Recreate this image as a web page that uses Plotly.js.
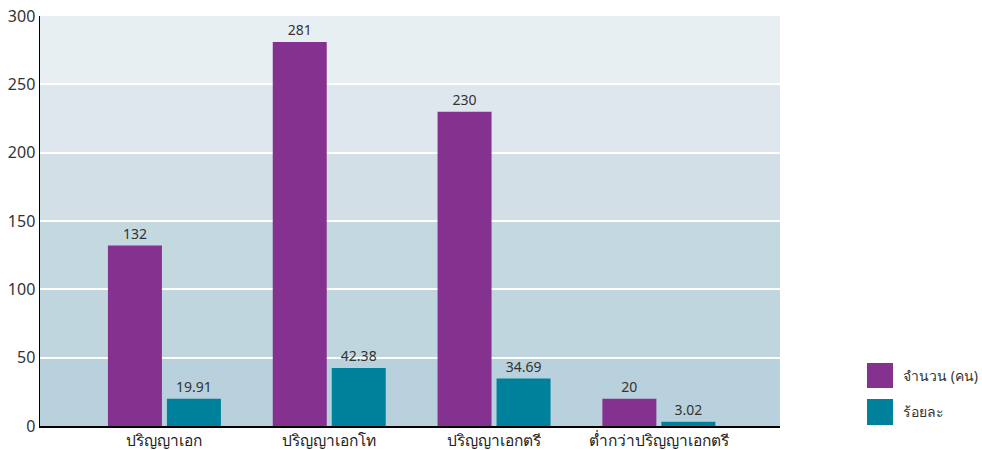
<!DOCTYPE html>
<html><head><meta charset="utf-8">
<script src="https://cdn.plot.ly/plotly-3.0.1.min.js"></script>
<style>html,body{margin:0;padding:0;background:#fff}</style>
</head><body>
<div id="chart" style="width:982px;height:450px"></div>
<script>
var categories = ["ปริญญาเอก", "ปริญญาเอกโท", "ปริญญาเอกตรี", "ต่ำกว่าปริญญาเอกตรี"];
var seriesNames = ["จำนวน (คน)", "ร้อยละ"];
var countValues = [132, 281, 230, 20];
var percentValues = [19.91, 42.38, 34.69, 3.02];
var yTicks = [0, 50, 100, 150, 200, 250, 300];
var seriesColors = ["#84318f", "#00819b"];
var bandColors = ["#b8d1dc", "#c0d6de", "#c3d8df", "#d2dfe6", "#dfe7ee", "#e8eff3"];

var font = "'Noto Sans', 'Open Sans', sans-serif";

var traces = [
  {type: "bar", name: seriesNames[0], x: categories, y: countValues,
   marker: {color: seriesColors[0]}, texttemplate: "%{y}", textposition: "outside",
   textfont: {size: 14, color: "#333", family: font}, cliponaxis: false, showlegend: false, hoverinfo: "x+y"},
  {type: "bar", name: seriesNames[1], x: categories, y: percentValues,
   marker: {color: seriesColors[1]}, texttemplate: "%{y}", textposition: "outside",
   textfont: {size: 14, color: "#333", family: font}, cliponaxis: false, showlegend: false, hoverinfo: "x+y"}
];

var shapes = [];
for (var i = 0; i < yTicks.length - 1; i++) {
  shapes.push({type: "rect", xref: "paper", yref: "y", x0: 0, x1: 1, y0: yTicks[i], y1: yTicks[i+1],
    fillcolor: bandColors[i], line: {width: 0}, layer: "below"});
}
var annotations = [];
var legendY = [[0.0927, 0.1537], [0.0024, 0.0659]];
for (var j = 0; j < seriesNames.length; j++) {
  shapes.push({type: "rect", xref: "paper", yref: "paper", x0: 1.1176, x1: 1.1527,
    y0: legendY[j][0], y1: legendY[j][1], fillcolor: seriesColors[j], line: {width: 0}});
  annotations.push({xref: "paper", yref: "paper", x: 1.1635, y: (legendY[j][0] + legendY[j][1]) / 2,
    xanchor: "left", yanchor: "middle", text: seriesNames[j], showarrow: false,
    font: {size: 14, color: "#333", family: font}});
}

var layout = {
  width: 982, height: 450,
  margin: {l: 40, r: 202, t: 16, b: 24, pad: 0},
  paper_bgcolor: "#ffffff", plot_bgcolor: "rgba(0,0,0,0)",
  barmode: "group", bargap: 0.284, bargroupgap: 0.085,
  showlegend: false,
  font: {family: font, color: "#333"},
  xaxis: {type: "category", range: [-0.755, 3.735], showline: true, linecolor: "#000", linewidth: 1.5,
    ticks: "", showgrid: false, zeroline: false, tickfont: {size: 15.5, color: "#222", family: font}},
  yaxis: {range: [0, 300], tickvals: yTicks, showline: true, linecolor: "#000", linewidth: 1.5,
    showgrid: true, gridcolor: "#ffffff", gridwidth: 2, zeroline: false, ticks: "",
    tickfont: {size: 16, color: "#333", family: font}, layer: "above traces"},
  shapes: shapes,
  annotations: annotations
};

Plotly.newPlot("chart", traces, layout, {staticPlot: true, displayModeBar: false});
</script>
</body></html>
